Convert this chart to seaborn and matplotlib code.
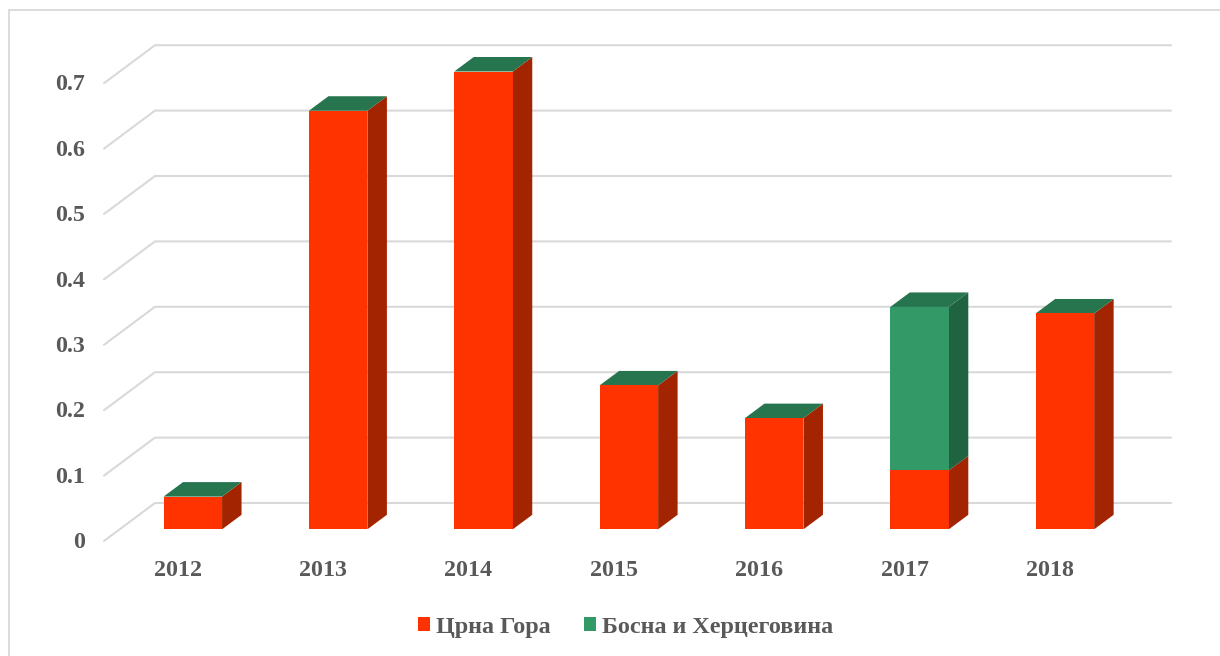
import matplotlib
matplotlib.use("Agg")
import matplotlib.pyplot as plt
import matplotlib.transforms as mtrans
from matplotlib.lines import Line2D
import seaborn as sns

years = ["2012", "2013", "2014", "2015", "2016", "2017", "2018"]
montenegro = [0.05, 0.64, 0.70, 0.22, 0.17, 0.09, 0.33]
bosnia = [0, 0, 0, 0, 0, 0.25, 0]
tick_values = [0, 0.1, 0.2, 0.3, 0.4, 0.5, 0.6, 0.7]
tick_labels = ["0", "0.1", "0.2", "0.3", "0.4", "0.5", "0.6", "0.7"]
series_names = ["Црна Гора", "Босна и Херцеговина"]

W, H = 1220, 656
PX_Y0, PX_PER_UNIT = 529.3, 654.0
PX_X0, PX_PER_CAT = 192.8, 145.35
BAR_W = 58.5 / PX_PER_CAT
AX_L, AX_R, AX_T, AX_B = 104, 1171, 45, 541

RED, RED_SIDE = "#ff3300", "#a32400"
GREEN, GREEN_SIDE, GREEN_TOP = "#339966", "#206340", "#27754f"
GRID = "#d9d9d9"
TXT = "#595959"
FONT = ["Liberation Serif", "DejaVu Serif"]

sns.set_theme(style="white")
plt.rcParams["font.family"] = FONT

fig = plt.figure(figsize=(W / 100, H / 100), dpi=100, facecolor="white")
ax = fig.add_axes([AX_L / W, 1 - AX_B / H, (AX_R - AX_L) / W, (AX_B - AX_T) / H])
ax.patch.set_alpha(0)


def cx(px):
    return (px - PX_X0) / PX_PER_CAT


def vy(px):
    return (PX_Y0 - px) / PX_PER_UNIT


sns.barplot(x=years, y=montenegro, color=RED, saturation=1, width=BAR_W,
            label=series_names[0], ax=ax, zorder=3, linewidth=0)
sns.barplot(x=years, y=bosnia, bottom=montenegro, color=GREEN, saturation=1, width=BAR_W,
            label=series_names[1], ax=ax, zorder=3, linewidth=0)
ax.set_xlim(cx(AX_L), cx(AX_R))
ax.set_ylim(vy(AX_B), vy(AX_T))

# 3-D depth of the back wall and of the bars, in data units
wall_dx, wall_dy = 51 / PX_PER_CAT, 38 / PX_PER_UNIT
wall_base = vy(503)
bar_dx, bar_dy = 19.5 / PX_PER_CAT, 14.5 / PX_PER_UNIT

for v in tick_values:
    ax.plot([cx(AX_L), cx(AX_L) + wall_dx, cx(AX_R)],
            [v + wall_base - wall_dy, v + wall_base, v + wall_base],
            color=GRID, lw=1.5, zorder=1, clip_on=False, solid_joinstyle="miter")

for i, (a, b) in enumerate(zip(montenegro, bosnia)):
    x1 = i + BAR_W / 2
    x0 = i - BAR_W / 2
    top = a + b
    ax.fill([x1, x1 + bar_dx, x1 + bar_dx, x1], [0, bar_dy, a + bar_dy, a],
            color=RED_SIDE, lw=0, zorder=2.5, clip_on=False)
    if b > 0:
        ax.fill([x1, x1 + bar_dx, x1 + bar_dx, x1], [a, a + bar_dy, top + bar_dy, top],
                color=GREEN_SIDE, lw=0, zorder=2.5, clip_on=False)
    ax.fill([x0, x0 + bar_dx, x1 + bar_dx, x1], [top, top + bar_dy, top + bar_dy, top],
            color=GREEN_TOP, lw=0, zorder=2.5, clip_on=False)

handles, labels = ax.get_legend_handles_labels()
if ax.get_legend() is not None:
    ax.get_legend().remove()

sns.despine(ax=ax, left=True, bottom=True, top=True, right=True)
ax.grid(False)
ax.set_xlabel("")
ax.set_ylabel("")
ax.set_yticks(tick_values, tick_labels)
ax.tick_params(axis="both", length=0)
ax.tick_params(axis="y", pad=13.5)
ax.tick_params(axis="x", pad=14)
for lab in ax.get_yticklabels():
    lab.set_transform(lab.get_transform() + mtrans.ScaledTranslation(0, -11 / 100, fig.dpi_scale_trans))
for lab in ax.get_xticklabels():
    lab.set_transform(lab.get_transform() + mtrans.ScaledTranslation(-15 / 100, 0, fig.dpi_scale_trans))
for lab in ax.get_xticklabels() + ax.get_yticklabels():
    lab.set_fontweight("bold")
    lab.set_color(TXT)
    lab.set_fontsize(17.3)
    lab.set_family(FONT)

leg = fig.legend(handles, labels, loc="center", bbox_to_anchor=(625.5 / W, 1 - 627 / H), ncols=2,
                 frameon=False, handlelength=0.5, handleheight=0.5, handletextpad=0.25,
                 columnspacing=1.4, prop={"family": FONT, "weight": "bold", "size": 17.4})
for t in leg.get_texts():
    t.set_color(TXT)

# outer chart frame: only the top and left edges are visible
fig.add_artist(Line2D([9 / W, 9 / W, 1], [0, 1 - 10 / H, 1 - 10 / H], transform=fig.transFigure,
                      color=GRID, lw=1.3, solid_joinstyle="miter"))
fig.savefig("out.png", dpi=100)
